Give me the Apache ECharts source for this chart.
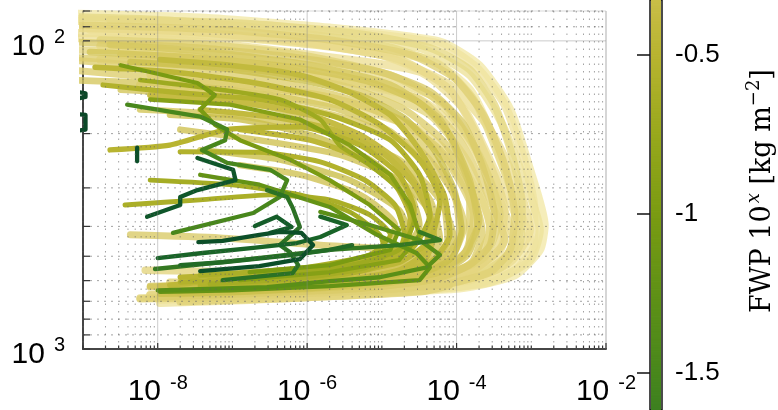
<!DOCTYPE html>
<html>
<head>
<meta charset="utf-8">
<script src="https://cdn.jsdelivr.net/npm/echarts@6.0.0/dist/echarts.min.js"></script>
<style>
html,body{margin:0;padding:0;background:#ffffff;}
#chart{width:778px;height:410px;}
</style>
</head>
<body>
<div id="chart"></div>
<script>
// ---- profiles: [value, pressure hPa] ----
const profA1 = [[6e-10,81.7],[3.7e-8,84.2],[2e-6,90.7],[6e-5,100.7],[2e-4,120],[5.2e-4,167],[9.6e-4,262],[1.5e-3,396],[1.3e-3,477],[6e-4,576],[1.1e-4,635],[8e-7,668],[1.45e-8,683]];
const profA2 = [[6e-10,86],[2e-8,88.7],[8e-7,95.6],[3.2e-5,105.4],[1.5e-4,129],[3.8e-4,180],[8.1e-4,283],[1.3e-3,411],[9.6e-4,515],[2.8e-4,607],[1.7e-5,653],[1.7e-7,693],[1.07e-8,709]];
const profA3 = [[1.24e-9,92],[3.7e-8,95.6],[1.5e-6,103],[4.4e-5,115],[1.5e-4,144],[3.2e-4,210],[6e-4,328],[9.6e-4,443],[3.8e-4,576],[3.2e-5,635],[8e-7,673],[2e-8,693]];
const profA4 = [[7e-10,98],[2e-8,99.3],[1.1e-6,111],[3.2e-5,126],[1.26e-4,167],[3.2e-4,262],[7e-4,411],[4.4e-4,534],[8.1e-5,611],[2e-6,653],[3.7e-8,678]];
const profA5 = [[1.7e-9,103.8],[6.8e-8,111],[2.7e-6,124],[4.4e-5,150],[1.5e-4,210],[3.8e-4,328],[6e-4,460],[2e-4,576],[9.4e-6,635],[1.7e-7,673],[7.9e-9,683]];
const profP1 = [[6e-10,84.9],[6.8e-8,87.5],[3.7e-6,93.5],[6e-5,102.3],[1.9e-4,122.7],[4.4e-4,161],[8e-4,243],[1.1e-3,354],[1.1e-3,460],[6e-4,555],[1.5e-4,621],[9.4e-6,652],[1.7e-7,678],[1.07e-8,693]];
const profP2 = [[1.7e-9,115],[9.3e-8,121],[2.7e-6,134],[3.2e-5,155],[1.26e-4,202],[3e-4,293],[4.4e-4,426],[3.2e-4,523],[1.1e-4,598],[9.4e-6,645],[2.3e-7,673],[1.45e-8,688]];
const profP3 = [[5.8e-9,139],[1.7e-7,146],[3.7e-6,164],[3.2e-5,194],[1.26e-4,262],[2.8e-4,396],[2.3e-4,515],[8.1e-5,598],[5.1e-6,645],[9.3e-8,668]];
const profB1 = [[6e-10,83.6],[1.07e-8,85.5],[2.3e-7,90.7],[9.4e-6,103],[6e-5,120],[1.7e-4,155],[3.8e-4,243],[7e-4,381],[4.4e-4,507],[1.1e-4,598],[3.7e-6,645],[6.8e-8,673],[5.8e-9,683]];
const profB2 = [[3.2e-9,111],[9.3e-8,116.8],[2.7e-6,132],[3.2e-5,155],[1.1e-4,210],[2.8e-4,328],[4.4e-4,443],[1.5e-4,563],[1.3e-5,625],[2.3e-7,658],[1.45e-8,673]];
const profB3 = [[6e-10,90.7],[2.7e-8,93.5],[8e-7,100.7],[1.7e-5,115],[8.1e-5,144],[2e-4,210],[4.4e-4,354],[3.2e-4,495],[6e-5,598],[8e-7,645],[3.7e-8,663]];
const profB4 = [[7.9e-9,129],[1.7e-7,139],[2.7e-6,155],[2.4e-5,187],[8.1e-5,253],[1.7e-4,367],[1.26e-4,495],[3.2e-5,589],[1.5e-6,635],[2e-8,658]];
const profB5 = [[6e-10,107],[7.9e-9,108.6],[2.3e-7,120],[5.1e-6,139],[4.4e-5,174],[1.5e-4,253],[2.8e-4,411],[1.5e-4,534],[1.7e-5,611],[4.3e-7,650],[1.25e-8,653]];
const profB6 = [[1.7e-9,99.3],[3.7e-8,102.3],[8e-7,111],[1.3e-5,129],[6.8e-5,161],[2e-4,234],[3.8e-4,367],[2.3e-4,507],[4.4e-5,589],[2e-6,630],[9.3e-8,645]];
const profB7 = [[6e-10,94.2],[1.7e-7,97.8],[9.4e-6,111],[8.1e-5,139],[2.8e-4,194],[7e-4,305],[9.6e-4,411],[5.2e-4,523],[1.5e-4,598],[9.4e-6,645],[1.7e-7,658],[7.9e-9,668]];
const profC1 = [[5.8e-9,167],[9.3e-8,174],[1.5e-6,194],[1.7e-5,243],[6e-5,328],[9.3e-5,443],[4.4e-5,534],[3.7e-6,598],[9.3e-8,635],[1.07e-8,645]];
const profC2 = [[1.07e-8,144],[2.3e-7,155],[3.7e-6,180],[3.2e-5,226],[9.3e-5,316],[1.1e-4,426],[6e-5,523],[9.4e-6,585],[2.3e-7,621],[7.9e-9,630]];
const profC3 = [[6e-10,115],[1.45e-8,122.7],[2.3e-7,132],[3.7e-6,155],[2.4e-5,194],[6.8e-5,272],[1.26e-4,396],[8.1e-5,507],[1.7e-5,580],[8e-7,615],[3.7e-8,635]];
const profC4 = [[2e-8,194],[2.3e-7,210],[2.7e-6,234],[1.7e-5,283],[4.4e-5,367],[3.7e-5,477],[1.3e-5,546],[8e-7,598],[2.7e-8,621]];
const profC5 = [[3.7e-8,226],[4.3e-7,243],[3.7e-6,283],[1.7e-5,354],[2.4e-5,443],[9.4e-6,523],[1.1e-6,580],[6.8e-8,611],[1.07e-8,625]];
const profC6 = [[2.3e-9,103],[5e-8,108.6],[1.1e-6,120],[1.3e-5,139],[6e-5,180],[1.26e-4,262],[2e-4,381],[1.1e-4,507],[1.7e-5,589],[8e-7,625]];
const profC7 = [[4.3e-9,426],[6.8e-8,436],[1.5e-6,460],[1.7e-5,477],[4.4e-5,507],[1.7e-5,563],[8e-7,607],[1.45e-8,640]];
const profC8 = [[6.8e-9,555],[1.7e-7,563],[3.7e-6,576],[3.2e-5,589],[6e-5,607],[9.4e-6,635],[1.7e-7,658],[7.9e-9,668]];
const profC9 = [[1.45e-8,607],[4.3e-7,611],[9.4e-6,615],[8.1e-5,621],[3.2e-5,653],[8e-7,683],[2e-8,703]];
const profC10 = [[3.2e-9,144],[3.7e-8,150],[4.3e-7,167],[3.7e-6,202],[1.7e-5,253],[4.4e-5,328],[6e-5,443],[3.2e-5,523],[2.7e-6,576],[6.8e-8,615],[7.9e-9,625]];
const profC11 = [[1.45e-8,174],[1.26e-7,180],[1.1e-6,202],[6.9e-6,243],[2.4e-5,316],[3.2e-5,396],[1.7e-5,495],[2e-6,563],[9.3e-8,598]];
const profC12 = [[6e-10,124],[1.07e-8,132],[1.26e-7,139],[1.5e-6,150],[1.3e-5,174],[6e-5,226],[1.5e-4,328],[1.5e-4,460],[6e-5,555],[9.4e-6,607],[4.3e-7,635],[2e-8,650]];
const profC13 = [[1.26e-7,253],[8e-7,272],[5.1e-6,316],[1.5e-5,396],[1.3e-5,477],[3.7e-6,543],[3.2e-7,585],[2.7e-8,611]];
const profM1 = [[6e-10,100.7],[3.7e-8,105.4],[8e-7,113.5],[9.4e-6,126],[4.4e-5,146],[1.26e-4,187],[2.3e-4,262],[3.2e-4,367],[2.8e-4,460],[1.5e-4,534],[4.4e-5,598],[3.7e-6,640],[1.26e-7,663],[1.07e-8,678]];
const profM2 = [[1.24e-9,108.6],[3.7e-8,113.5],[8e-7,122.7],[6.9e-6,136],[3.2e-5,159],[8.1e-5,202],[1.5e-4,283],[1.9e-4,396],[1.4e-4,495],[6e-5,563],[9.4e-6,615],[4.3e-7,645],[2e-8,663]];
const profM3 = [[4.3e-9,117],[6.8e-8,122.7],[8e-7,134],[5.1e-6,150],[2e-5,178],[5e-5,226],[9.3e-5,305],[1.17e-4,411],[8.6e-5,507],[3.2e-5,571],[3.7e-6,621],[1.7e-7,650],[1.07e-8,663]];
const profM4 = [[6e-10,134],[2e-8,139],[3.2e-7,150],[2.7e-6,167],[1.3e-5,197],[3.7e-5,253],[6.8e-5,341],[7.6e-5,443],[4.4e-5,530],[1.3e-5,589],[1.5e-6,625],[6.8e-8,645]];
const profM5 = [[7.9e-9,150],[1.26e-7,158],[1.1e-6,174],[5.1e-6,202],[1.7e-5,247],[3.7e-5,323],[5e-5,426],[3.7e-5,515],[1.5e-5,576],[2e-6,615],[1.26e-7,640],[1.45e-8,650]];
const profM6 = [[6e-10,88.7],[6.8e-8,92],[2e-6,99.3],[2.4e-5,111],[9.3e-5,132],[2.3e-4,174],[4.4e-4,253],[6e-4,367],[5.2e-4,477],[2.8e-4,563],[6e-5,621],[2.7e-6,653],[6.8e-8,678],[5.8e-9,688]];
const profM7 = [[2.3e-9,85.5],[1.7e-7,88],[5.1e-6,95],[4.4e-5,105.4],[1.5e-4,124],[3.2e-4,161],[5.5e-4,234],[7.5e-4,341],[7e-4,460],[3.8e-4,546],[8.1e-5,611],[3.7e-6,650],[9.3e-8,673]];
const profM8 = [[3.7e-8,167],[4.3e-7,178],[2.7e-6,197],[1.1e-5,234],[2.7e-5,293],[4.4e-5,381],[3.7e-5,485],[1.7e-5,555],[2.7e-6,602],[2.3e-7,630],[2e-8,645]];
const profM9 = [[1.26e-7,194],[1.1e-6,210],[5.1e-6,240],[1.5e-5,293],[2.4e-5,375],[2e-5,470],[9.4e-6,538],[1.5e-6,589],[1.26e-7,621]];
const profM10 = [[6e-10,113],[1.45e-8,117],[3.2e-7,126],[3.7e-6,142],[2e-5,167],[6.8e-5,213],[1.5e-4,293],[2.2e-4,417],[1.6e-4,523],[6e-5,589],[6.9e-6,630],[3.2e-7,653],[1.45e-8,668]];
const profM11 = [[2e-8,229],[2.3e-7,230],[1.5e-6,247],[5.9e-6,283],[1.5e-5,341],[2e-5,426],[1.5e-5,507],[5.1e-6,559],[5.9e-7,602],[3.7e-8,625]];
const profM12 = [[7.9e-9,283],[9.3e-8,293],[8e-7,316],[3.7e-6,359],[9.4e-6,426],[1.1e-5,495],[5.9e-6,546],[8e-7,589],[5e-8,615]];
const profD1 = [[1.45e-9,121.8],[1.45e-8,126],[1.7e-7,136],[2e-6,155],[9.4e-6,187],[3.2e-5,243],[6e-5,328],[4.4e-5,443],[1.7e-5,523],[1.5e-6,576],[3.7e-8,607],[1.45e-8,621]];
const profD2 = [[1.85e-9,139],[2e-8,147.5],[2.3e-7,155],[2e-6,174],[1.3e-5,210],[3.2e-5,272],[4.4e-5,367],[2.4e-5,477],[3.7e-6,546],[1.7e-7,589],[2e-8,607]];
const profD3 = [[5.8e-9,134],[6.8e-8,144],[4.3e-7,155],[1.5e-6,180],[2.7e-6,218],[6.9e-6,253],[1.7e-5,305],[2.7e-5,381],[1.7e-5,477],[3.7e-6,534],[2.3e-7,576]];
const profD4 = [[2.3e-9,226],[1.45e-8,218],[8.5e-8,194],[8e-7,190],[5.1e-6,218],[1.7e-5,272],[2.7e-5,354],[2e-5,460],[5.1e-6,523],[3.2e-7,563],[2e-8,585]];
const profD5 = [[3.65e-9,341],[3.7e-8,328],[3.2e-7,316],[2e-6,328],[6.9e-6,367],[1.3e-5,426],[6.9e-6,495],[8e-7,546],[3.7e-8,576]];
const profD6 = [[1.07e-8,115],[9.3e-8,120],[8e-7,129],[3.7e-6,147],[1.3e-5,174],[3.2e-5,226],[6.8e-5,316],[8.1e-5,426],[4.4e-5,523],[5.1e-6,589],[1.7e-7,621]];
const profE1 = [[3.2e-9,120],[3.4e-8,137],[5.8e-8,150],[3.7e-8,167],[5.8e-8,187],[1.26e-7,210],[5.9e-7,243],[2e-6,283],[6.9e-6,341],[1.7e-5,411],[1.3e-5,477],[2e-6,534],[1.7e-7,563]];
const profE2 = [[3.9e-9,161],[3.7e-8,176],[8.5e-8,194],[8e-8,210],[3.9e-8,226],[8.5e-8,249],[3.2e-7,262],[5.4e-7,283],[4.3e-7,321],[1.9e-7,362],[1.6e-8,420]];
const profE3 = [[3.7e-8,272],[2.3e-7,293],[2e-6,346],[8.6e-6,426],[2.9e-5,488],[4.4e-5,543],[3.2e-5,598],[2e-6,625],[9.3e-8,645],[1.07e-8,653]];
const profE4 = [[1e-8,645],[2.9e-7,630],[2e-6,602],[9.4e-6,585],[4e-5,543],[6e-5,495],[3.2e-5,443],[6.9e-6,396],[1.5e-6,359]];
const profE5 = [[7.9e-9,155],[9.3e-8,161],[8e-7,180],[3.7e-6,218],[1.3e-5,272],[2.4e-5,341],[3.2e-5,426],[1.7e-5,515],[2e-6,563],[1.26e-7,598]];
const profF1 = [[3.4e-8,240],[1.02e-7,262],[1.1e-7,283],[3.4e-8,305],[2e-8,321],[2e-8,341],[7.2e-9,372]];
const profF2 = [[1e-8,507],[4e-8,488],[1.9e-7,470],[7.3e-7,453],[1.5e-6,433],[3.4e-6,396],[1.5e-6,372]];
const profF3 = [[3.5e-8,450],[7.4e-8,446],[2.3e-7,426],[4.3e-7,417],[8.4e-7,420],[1.2e-6,460],[8e-7,511],[2.3e-7,538],[3.7e-8,559]];
const profF4 = [[2e-7,399],[3.9e-7,372],[6.2e-7,402],[3.2e-7,420]];
const profF5 = [[2e-8,534],[7.4e-8,523],[6.6e-7,495],[2e-6,477],[4e-6,460]];
const profF6 = [[2.9e-7,305],[5.4e-7,321],[6.4e-7,348],[8e-7,402],[4.3e-7,460],[5.9e-7,485],[7.6e-7,534],[6.4e-7,567],[7.4e-8,598]];
const profF7 = [[9.2e-9,550],[5.5e-8,526],[2.9e-7,503],[2e-6,477],[1.7e-5,460],[6e-5,443],[3.2e-5,417]];
const profF8 = [[5e-10,143],[1.08e-9,148],[1.08e-9,152],[5e-10,158],[5e-10,170],[1.08e-9,174],[1.08e-9,194],[5e-10,200]];
const profF9 = [[5.3e-9,222],[5.3e-9,246]];

const profileList = [profA1,profA2,profA3,profA4,profA5,profP1,profP2,profP3,profB1,profB2,profB3,profB4,profB5,profB6,profB7,
  profC1,profC2,profC3,profC4,profC5,profC6,profC7,profC8,profC9,profC10,profC11,profC12,profC13,
  profM1,profM2,profM3,profM4,profM5,profM6,profM7,profM8,profM9,profM10,profM11,profM12,
  profD1,profD2,profD3,profD4,profD5,profD6,profE1,profE2,profE3,profE4,profE5,
  profF1,profF2,profF3,profF4,profF5,profF6,profF7,profF8,profF9];
// FWP exponent of each profile (colour)
const profileFWP = [0.3,0.22,0.28,0.2,0.15,0.25,0.2,0.15,0.1,0.05,0.12,0.0,0.08,0.02,0.18,
  -0.2,-0.1,-0.05,-0.25,-0.3,-0.15,-0.1,0.05,0.0,-0.2,-0.3,-0.05,-0.25,
  -0.1,-0.2,-0.3,-0.15,-0.35,0.0,0.1,-0.4,-0.45,-0.05,-0.55,-0.65,
  -0.45,-0.55,-0.7,-0.5,-0.6,-0.4,-1.0,-1.5,-1.2,-1.3,-0.9,
  -2.2,-2.0,-2.3,-2.1,-1.9,-1.8,-1.7,-2.4,-2.3];

// ---- axes ----
const xLabelDecades = [1e-8, 1e-6, 1e-4, 1e-2];
const xOddDecades = [1e-9, 1e-7, 1e-5, 1e-3];
const yMajorValues = [100, 1000];
const yMinorValues = [80, 90, 200, 300, 400, 500, 600, 700, 800, 900];
const cbarTicks = [-1.5, -1, -0.5];
const cbarRange = [-1.617, -0.329];

// colormap (FWP exponent -> rgb)
const cmapStops = [[0.5,[255,250,205]],[0.25,[240,228,160]],[0,[224,209,118]],[-0.25,[208,194,82]],
  [-0.5,[184,180,48]],[-0.75,[152,168,28]],[-1,[122,155,18]],[-1.25,[95,145,22]],[-1.5,[72,135,28]],
  [-1.75,[48,118,35]],[-2,[25,100,40]],[-2.25,[12,82,42]],[-2.5,[10,65,38]]];
function fwpColor(v){
  if (v >= cmapStops[0][0]) return 'rgb(' + cmapStops[0][1].join(',') + ')';
  for (let i = 0; i < cmapStops.length - 1; i++) {
    const a = cmapStops[i], b = cmapStops[i+1];
    if (v <= a[0] && v >= b[0]) {
      const t = (a[0] - v) / (a[0] - b[0]);
      const c = a[1].map((ca, k) => Math.round(ca + (b[1][k] - ca) * t));
      return 'rgb(' + c.join(',') + ')';
    }
  }
  return 'rgb(' + cmapStops[cmapStops.length-1][1].join(',') + ')';
}

// grid decoration items [x, y, kind]
const gridItems = [];
xLabelDecades.forEach(v => gridItems.push([v, 1000, 0]));
xOddDecades.forEach(v => gridItems.push([v, 1000, 1]));
for (let e = -9; e <= -3; e++) for (let m = 2; m <= 9; m++) gridItems.push([m * Math.pow(10, e), 1000, 1]);
yMajorValues.forEach(v => gridItems.push([1e-9, v, 2]));
yMinorValues.forEach(v => gridItems.push([1e-9, v, 3]));

const cbarStep = 0.005;
const cbarItems = [];
for (let v = cbarRange[0]; v < cbarRange[1]; v += cbarStep) cbarItems.push([0.5, v]);

const order = profileList.map((_, i) => i).sort((a, b) => profileFWP[b] - profileFWP[a]);
const lineSeries = order.map(i => {
  const f = profileFWP[i];
  const w = Math.max(4.3, Math.min(9.5, 4.5 + (f + 0.7) * 4));
  return {
    type: 'line', xAxisIndex: 0, yAxisIndex: 0, data: profileList[i],
    symbol: 'none', showSymbol: false, smooth: f > -0.8 ? 0.2 : false, silent: true, clip: true, z: 2,
    lineStyle: { color: fwpColor(f), width: w, opacity: f > -0.35 ? 0.8 : 1, cap: 'round', join: 'round' }
  };
});

const sans = 'Liberation Sans';
function powLabel(v, evenOnly){
  const l = Math.log10(v), e = Math.round(l);
  if (Math.abs(l - e) > 1e-6) return '';
  if (evenOnly && e % 2 !== 0) return '';
  return '{b|10}{s|' + e + '}';
}
const richPow = {
  b: { fontSize: 30, lineHeight: 38, fontFamily: sans, color: '#000' },
  s: { fontSize: 20, lineHeight: 15, verticalAlign: 'top', padding: [0, 0, 0, 9], fontFamily: sans, color: '#000' }
};

const chart = echarts.init(document.getElementById('chart'), null, { renderer: 'canvas' });
chart.setOption({
  animation: false,
  backgroundColor: '#ffffff',
  textStyle: { fontFamily: sans },
  grid: [
    { left: 83, top: 11, width: 523, height: 338, show: true, borderColor: '#d9d9d9', borderWidth: 1, containLabel: false },
    { left: 650, top: 0, width: 12, height: 410, show: true, borderColor: '#111', borderWidth: 1.5, containLabel: false }
  ],
  xAxis: [
    { type: 'log', logBase: 10, gridIndex: 0, min: 1e-9, max: 1e-2,
      axisLine: { show: true, onZero: false, lineStyle: { color: '#333', width: 1.8 } },
      axisTick: { show: false }, splitLine: { show: false }, minorTick: { show: false },
      axisLabel: { show: true, interval: 0, hideOverlap: false, showMinLabel: true, showMaxLabel: true, margin: 24,
        formatter: v => powLabel(v, true), rich: richPow } },
    { type: 'value', gridIndex: 1, min: 0, max: 1, show: false }
  ],
  yAxis: [
    { type: 'log', logBase: 10, gridIndex: 0, min: 80, max: 1000, inverse: true,
      axisLine: { show: true, onZero: false, lineStyle: { color: '#333', width: 1.8 } },
      axisTick: { show: false }, splitLine: { show: false }, minorTick: { show: false },
      axisLabel: { show: true, interval: 0, hideOverlap: false, showMinLabel: true, showMaxLabel: true, margin: 18,
        padding: [11, 0, 0, 0], formatter: v => powLabel(v, false), rich: richPow } },
    { type: 'value', gridIndex: 1, min: cbarRange[0], max: cbarRange[1], position: 'right',
      axisLine: { show: false }, splitLine: { show: false },
      axisTick: { show: true, inside: true, length: 13, customValues: cbarTicks, lineStyle: { color: '#111', width: 1.5 } },
      axisLabel: { show: true, customValues: cbarTicks, margin: 13, fontSize: 26, color: '#000', fontFamily: sans,
        formatter: v => String(Math.round(v * 10) / 10) },
      name: '{t|FWP 10}{i|x}{t| [kg m}{e|\u22122}{t|]}',
      nameLocation: 'middle', nameRotate: 90, nameGap: 83,
      nameTextStyle: { padding: [0, 0, 0, 28], rich: {
        t: { fontSize: 27, lineHeight: 36, fontFamily: 'DejaVu Serif', color: '#000' },
        i: { fontSize: 18, lineHeight: 16, verticalAlign: 'top', fontStyle: 'italic', fontFamily: 'DejaVu Serif', color: '#000', padding: [0, 0, 0, 2] },
        e: { fontSize: 18, lineHeight: 16, verticalAlign: 'top', fontFamily: 'DejaVu Serif', color: '#000' }
      } } }
  ],
  series: lineSeries.concat([
    { type: 'custom', xAxisIndex: 0, yAxisIndex: 0, data: gridItems, silent: true, z: 5,
      encode: { x: 0, y: 1 },
      renderItem: function(params, api){
        const cs = params.coordSys;
        const kind = api.value(2);
        const children = [];
        if (kind <= 1) {
          const px = api.coord([api.value(0), 1000])[0];
          const major = kind === 0;
          children.push({ type: 'line', shape: { x1: px, y1: cs.y, x2: px, y2: cs.y + cs.height },
            style: major ? { stroke: 'rgba(140,140,140,0.45)', lineWidth: 1 } : { stroke: 'rgba(100,100,100,0.6)', lineWidth: 1, lineDash: [1.5, 6] } });
          children.push({ type: 'line', shape: { x1: px, y1: cs.y + cs.height, x2: px, y2: cs.y + cs.height - (major ? 6 : 3.5) },
            style: { stroke: '#333', lineWidth: 1.2 } });
        } else {
          const py = api.coord([1e-9, api.value(1)])[1];
          const major = kind === 2;
          children.push({ type: 'line', shape: { x1: cs.x, y1: py, x2: cs.x + cs.width, y2: py },
            style: major ? { stroke: 'rgba(140,140,140,0.45)', lineWidth: 1 } : { stroke: 'rgba(100,100,100,0.6)', lineWidth: 1, lineDash: [2, 5] } });
          children.push({ type: 'line', shape: { x1: cs.x, y1: py, x2: cs.x + 7, y2: py },
            style: { stroke: '#333', lineWidth: 1.2 } });
        }
        return { type: 'group', children: children };
      } },
    { type: 'custom', xAxisIndex: 1, yAxisIndex: 1, data: cbarItems, silent: true, z: 2,
      encode: { x: 0, y: 1 },
      renderItem: function(params, api){
        const v0 = api.value(1);
        const p0 = api.coord([0, v0]);
        const p1 = api.coord([1, v0 + cbarStep]);
        return { type: 'rect', shape: { x: p0[0] + 1, y: p1[1], width: p1[0] - p0[0] - 2, height: p0[1] - p1[1] + 0.8 },
          style: { fill: fwpColor(v0 + cbarStep / 2) } };
      } }
  ])
});
</script>
</body>
</html>
